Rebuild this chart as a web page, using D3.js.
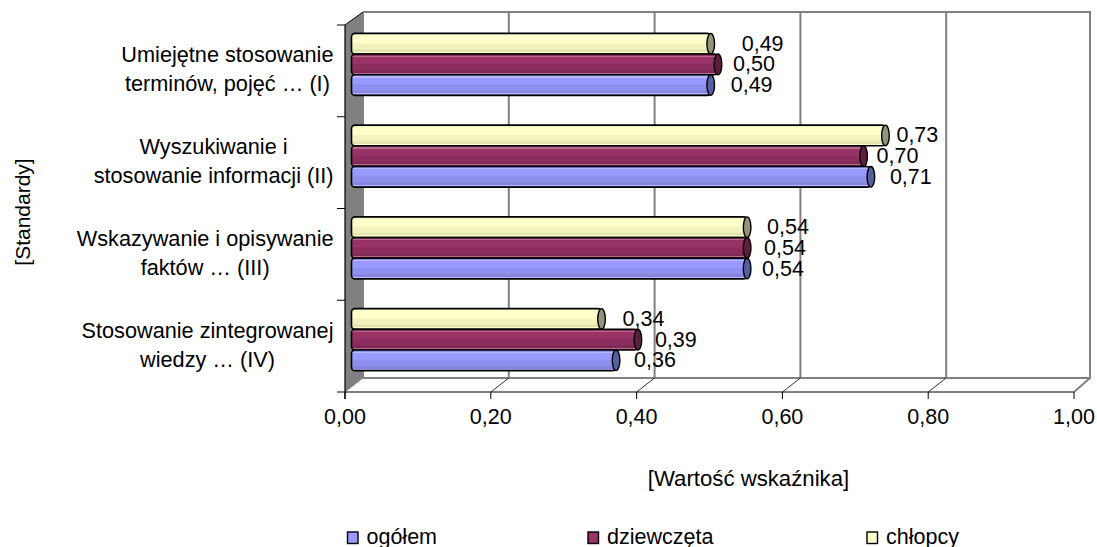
<!DOCTYPE html>
<html>
<head>
<meta charset="utf-8">
<script src="https://cdn.jsdelivr.net/npm/d3@7"></script>
<style>
body { margin: 0; background: #fff; }
text { font-family: "Liberation Sans", Arial, sans-serif; font-size: 21.5px; fill: #000; }
</style>
</head>
<body>
<div id="chart"></div>
<script>
const categories = [
    ["Umiejętne stosowanie", "terminów, pojęć … (I)"],
    ["Wyszukiwanie i", "stosowanie informacji (II)"],
    ["Wskazywanie i opisywanie", "faktów … (III)"],
    ["Stosowanie zintegrowanej", "wiedzy … (IV)"]
];
const seriesNames = ["chłopcy", "dziewczęta", "ogółem"];
const legendNames = ["ogółem", "dziewczęta", "chłopcy"];
const chlopcy = [0.49, 0.73, 0.54, 0.34];
const dziewczeta = [0.50, 0.70, 0.54, 0.39];
const ogolem = [0.49, 0.71, 0.54, 0.36];
const tickValues = [0, 0.2, 0.4, 0.6, 0.8, 1];
const labelNudge = [[31, 15, 20], [11, 13, 19], [20, 17, 15], [21, 17, 18]];

const width = 1097, height = 547;
const seriesValues = [chlopcy, dziewczeta, ogolem];
const colors = {
    "chłopcy": { hi: "#ffffcc", top: "#ffffcc", mid: "#f2f2bf", low: "#e3e3ad", cap: "#94947a" },
    "dziewczęta": { hi: "#b56a8e", top: "#993366", mid: "#8c2e5d", low: "#7f2a55", cap: "#5c1f3d" },
    "ogółem": { hi: "#b9b9ff", top: "#9999ff", mid: "#8f8fee", low: "#8585dd", cap: "#5560a0" }
};
const grey = "#808080";

const svg = d3.select("#chart").append("svg")
    .attr("width", width)
    .attr("height", height);

const defs = svg.append("defs");
seriesNames.forEach((name, i) => {
    const c = colors[name];
    const grad = defs.append("linearGradient")
        .attr("id", "cyl" + i)
        .attr("x1", 0).attr("x2", 0).attr("y1", 0).attr("y2", 1);
    [[0, c.mid], [0.08, c.mid], [0.08, c.hi], [0.14, c.hi], [0.14, c.top], [0.45, c.top], [0.5, c.mid], [0.75, c.mid], [0.8, c.low], [0.9, c.low], [0.9, c.hi], [0.95, c.hi], [0.95, c.low], [1, c.low]]
        .forEach(s => grad.append("stop").attr("offset", s[0]).attr("stop-color", s[1]));
});

// front edge of the floor and the back wall are offset to fake the 3d box
const depthX = 18, depthY = 14;
const x = d3.scaleLinear().domain([0, 1]).range([345, 1074]);
const xBar = d3.scaleLinear().domain([0, 1]).range([354, 1082]);
const yFrontTop = 25, yFrontBottom = 392;

const y = d3.scaleBand()
    .domain(d3.range(categories.length))
    .range([yFrontTop - 6.5, yFrontBottom - 6.5]);
const ySeries = d3.scaleBand()
    .domain(seriesNames)
    .range([y.step() / 2 - 31, y.step() / 2 + 31]);

// left wall
svg.append("polygon")
    .attr("points", [[x(0), yFrontTop], [x(0) + depthX, yFrontTop - 13], [x(0) + depthX, yFrontBottom - depthY], [x(0), yFrontBottom]].join(" "))
    .attr("fill", grey);

// back gridlines
svg.append("g").selectAll("line")
    .data(tickValues)
    .enter().append("line")
    .attr("x1", d => x(d) + depthX - (d == 1 ? 2 : 0))
    .attr("x2", d => x(d) + depthX - (d == 1 ? 2 : 0))
    .attr("y1", yFrontTop - 13)
    .attr("y2", yFrontBottom - depthY)
    .attr("stroke", grey)
    .attr("stroke-width", 2);

svg.append("line").attr("x1", x(0) + depthX).attr("x2", x(1) + 17)
    .attr("y1", yFrontTop - 13).attr("y2", yFrontTop - 13)
    .attr("stroke", grey).attr("stroke-width", 2);
svg.append("line").attr("x1", x(0) + depthX).attr("x2", x(1) + 17)
    .attr("y1", yFrontBottom - depthY).attr("y2", yFrontBottom - depthY)
    .attr("stroke", grey).attr("stroke-width", 2);
svg.append("line").attr("x1", x(1)).attr("x2", x(1) + 16)
    .attr("y1", yFrontBottom).attr("y2", yFrontBottom - depthY)
    .attr("stroke", grey).attr("stroke-width", 2);

// floor diagonals
svg.append("g").selectAll("line")
    .data(tickValues.slice(0, 5))
    .enter().append("line")
    .attr("x1", d => x(d))
    .attr("x2", d => x(d) + depthX)
    .attr("y1", yFrontBottom)
    .attr("y2", yFrontBottom - depthY)
    .attr("stroke", d => d == 0 ? grey : "#000")
    .attr("stroke-width", 0.8);

// front axes
svg.append("line").attr("x1", x(0)).attr("x2", x(1))
    .attr("y1", yFrontBottom).attr("y2", yFrontBottom)
    .attr("stroke", "#000").attr("stroke-width", 1.2);
svg.append("line").attr("x1", x(0)).attr("x2", x(0))
    .attr("y1", yFrontTop).attr("y2", yFrontBottom + 7)
    .attr("stroke", "#000").attr("stroke-width", 1.2);
svg.append("line").attr("x1", x(0)).attr("x2", x(0) + depthX)
    .attr("y1", yFrontTop).attr("y2", yFrontTop - 13)
    .attr("stroke", "#000").attr("stroke-width", 1);

svg.append("g").selectAll("line")
    .data(tickValues)
    .enter().append("line")
    .attr("x1", d => x(d)).attr("x2", d => x(d))
    .attr("y1", yFrontBottom).attr("y2", yFrontBottom + 7)
    .attr("stroke", "#000");

svg.append("g").selectAll("line")
    .data(d3.range(categories.length + 1))
    .enter().append("line")
    .attr("x1", x(0) - 8).attr("x2", x(0))
    .attr("y1", d => yFrontTop + d * y.step())
    .attr("y2", d => yFrontTop + d * y.step())
    .attr("stroke", "#000");

svg.append("g").selectAll("text")
    .data(tickValues)
    .enter().append("text")
    .attr("x", d => x(d))
    .attr("y", 424)
    .attr("text-anchor", "middle")
    .text(d => d.toFixed(2).replace(".", ","));

// bars, top one drawn first so lower ones sit over it
const barH = ySeries.bandwidth();
const groups = svg.append("g").selectAll("g")
    .data(categories)
    .enter().append("g")
    .attr("transform", (d, i) => "translate(0," + y(i) + ")");

groups.each(function (d, i) {
    const g = d3.select(this);
    seriesNames.forEach((name, s) => {
        const v = seriesValues[s][i];
        const top = ySeries(name);
        const bar = g.append("g");
        bar.append("rect")
            .attr("x", xBar(0) - 2.5)
            .attr("y", top)
            .attr("width", xBar(v) - xBar(0) + 2.5)
            .attr("height", barH)
            .attr("rx", 3.5)
            .attr("fill", "url(#cyl" + s + ")")
            .attr("stroke", "#000")
            .attr("stroke-width", 1.6);
        bar.append("ellipse")
            .attr("cx", xBar(v))
            .attr("cy", top + barH / 2)
            .attr("rx", 3.8)
            .attr("ry", barH / 2)
            .attr("fill", colors[name].cap)
            .attr("stroke", "#000")
            .attr("stroke-width", 1.4);
        bar.append("text")
            .attr("x", xBar(v) + labelNudge[i][s])
            .attr("y", top + barH / 2 + 7)
            .text(v.toFixed(2).replace(".", ","));
    });
});

// category labels: the widest line of each ends just left of the axis
const catLabels = svg.append("g").selectAll("text")
    .data(categories)
    .enter().append("text")
    .attr("text-anchor", "middle")
    .style("font-size", "21.7px");
catLabels.selectAll("tspan")
    .data(d => d)
    .enter().append("tspan")
    .attr("x", 0)
    .attr("dy", (d, i) => i == 0 ? 0 : 29)
    .text(d => d);
catLabels.attr("transform", function (d, i) {
    const w = this.getBBox().width;
    return "translate(" + (333.5 - w / 2) + "," + (y(i) + y.step() / 2 - 2) + ")";
});

svg.append("text")
    .attr("transform", "translate(30,212) rotate(-90)")
    .attr("text-anchor", "middle")
    .style("font-size", "21px")
    .text("[Standardy]");

svg.append("text")
    .attr("x", 748.5)
    .attr("y", 485.5)
    .attr("text-anchor", "middle")
    .style("font-size", "22.2px")
    .text("[Wartość wskaźnika]");

// legend, spacing follows the text widths
const legendX = d3.scaleOrdinal().domain(legendNames).range([347.5, 588, 867]);
const legend = svg.append("g").selectAll("g")
    .data(legendNames)
    .enter().append("g")
    .attr("transform", d => "translate(" + legendX(d) + ",532)");
legend.append("rect")
    .attr("width", 10.5).attr("height", 11.5)
    .attr("fill", d => colors[d].top)
    .attr("stroke", "#000")
    .attr("stroke-width", 1.4);
legend.append("text")
    .attr("x", 19)
    .attr("y", 11.5)
    .text(d => d);
</script>
</body>
</html>
